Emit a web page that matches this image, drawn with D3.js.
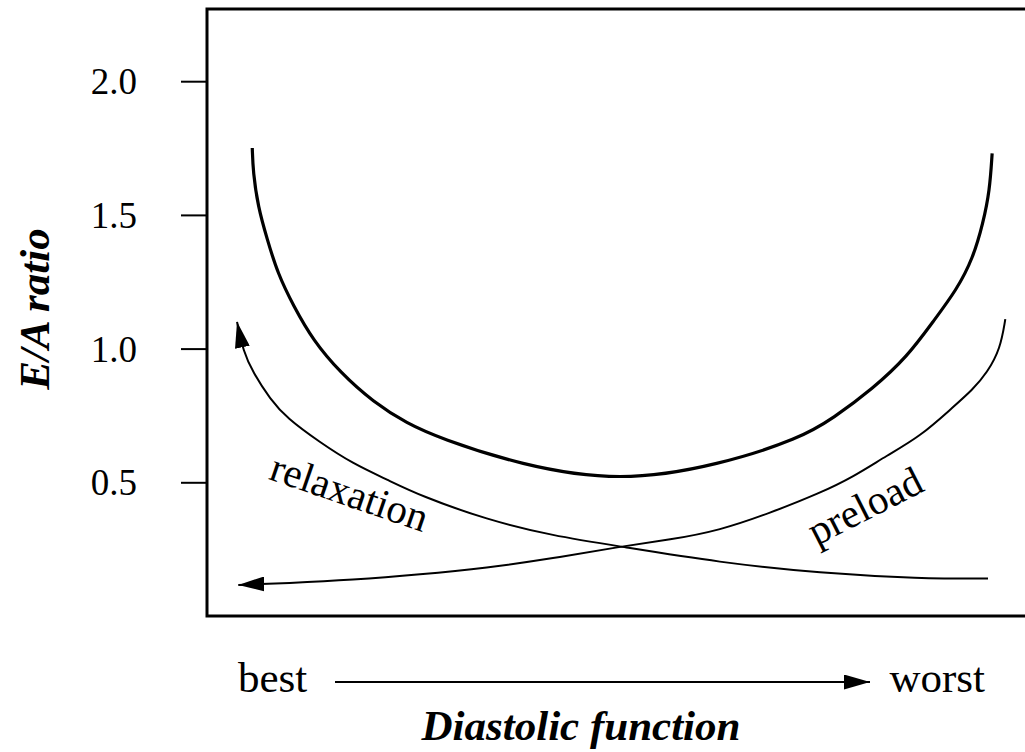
<!doctype html>
<html lang="en">
<head>
<meta charset="utf-8">
<style>
  body { margin: 0; background: #fff; }
  text { font-family: "Liberation Serif", "Times New Roman", serif; fill: #000; }
  .tick text { font-size: 37px; }
  .note { font-size: 41px; }
  .end-label { font-size: 43px; }
  .axis-title { font-size: 43px; font-weight: bold; font-style: italic; }
</style>
<script src="https://d3js.org/d3.v7.min.js"></script>
</head>
<body>
<svg width="1025" height="752"></svg>
<script>
// diastolic function index, 0 = best ... 100 = worst
const eaCurveX = [5.5, 5.6, 6.2, 7.3, 8.6, 10.5, 12.9, 16.2, 20.2, 24.3, 28.3, 38.0, 50.2,
                  62.3, 72.1, 76.1, 80.9, 85.1, 88.2, 91.1, 93.1, 94.3, 95.1, 95.4];
const eaCurveY = [1.75, 1.66, 1.53, 1.41, 1.28, 1.16, 1.03, 0.91, 0.80, 0.72, 0.665, 0.565, 0.50,
                  0.565, 0.665, 0.74, 0.85, 0.97, 1.10, 1.22, 1.34, 1.47, 1.59, 1.73];

// relaxation arrow, drawn from worst towards best
const relaxX = [94.9, 86.6, 74.5, 62.3, 50.2, 42.0, 34.0, 25.9, 21.9, 17.7, 13.7, 9.7, 7.7, 5.6, 4.4, 3.65];
const relaxY = [0.14, 0.14, 0.16, 0.20, 0.26, 0.30, 0.36, 0.45, 0.51, 0.57, 0.65, 0.74, 0.81, 0.91, 0.99, 1.10];

// preload arrow, drawn from worst towards best
const preloadX = [97.0, 96.4, 94.8, 93.0, 90.6, 86.6, 82.6, 78.5, 74.5, 68.4, 62.3, 56.3, 50.2, 42.0, 34.0, 25.9, 17.7, 9.7, 3.8];
const preloadY = [1.11, 1.00, 0.91, 0.845, 0.78, 0.67, 0.60, 0.52, 0.46, 0.385, 0.32, 0.285, 0.26, 0.215, 0.18, 0.155, 0.135, 0.123, 0.116];

const yTicks = [0.5, 1.0, 1.5, 2.0];

const svg = d3.select("svg");

const x = d3.scaleLinear().domain([0, 100]).range([207, 1030]);
const y = d3.scaleLinear().domain([0, 2.27]).range([616, 9]);

svg.append("defs").append("marker")
    .attr("id", "head")
    .attr("viewBox", "0 0 10 10")
    .attr("refX", 10)
    .attr("refY", 5)
    .attr("markerUnits", "userSpaceOnUse")
    .attr("markerWidth", 26)
    .attr("markerHeight", 15)
    .attr("preserveAspectRatio", "none")
    .attr("orient", "auto")
    .append("path")
    .attr("d", "M0,0 L10,5 L0,10 Z")
    .attr("fill", "#000");

// frame
svg.append("rect")
    .attr("x", x(0))
    .attr("y", y(2.27))
    .attr("width", x(100) - x(0))
    .attr("height", y(0) - y(2.27))
    .attr("fill", "none")
    .attr("stroke", "#000")
    .attr("stroke-width", 3);

// y axis
const yAxis = svg.append("g")
    .attr("transform", `translate(${x(0)},0)`)
    .call(d3.axisLeft(y)
        .tickValues(yTicks)
        .tickFormat(d3.format(".1f"))
        .tickSize(26)
        .tickPadding(44));
yAxis.select(".domain").remove();
yAxis.selectAll(".tick line").attr("stroke", "#000").attr("stroke-width", 2);
yAxis.selectAll(".tick text").attr("font-family", null).attr("font-size", null).attr("dy", "0.34em");

const line = d3.line()
    .x(d => x(d[0]))
    .y(d => y(d[1]))
    .curve(d3.curveBasis);

svg.append("path")
    .attr("d", line(d3.zip(eaCurveX, eaCurveY)))
    .attr("fill", "none")
    .attr("stroke", "#000")
    .attr("stroke-width", 3.2);

svg.append("path")
    .attr("d", line(d3.zip(relaxX, relaxY)))
    .attr("fill", "none")
    .attr("stroke", "#000")
    .attr("stroke-width", 2)
    .attr("marker-end", "url(#head)");

svg.append("path")
    .attr("d", line(d3.zip(preloadX, preloadY)))
    .attr("fill", "none")
    .attr("stroke", "#000")
    .attr("stroke-width", 2)
    .attr("marker-end", "url(#head)");

// curve labels
svg.append("text")
    .attr("class", "note")
    .attr("text-anchor", "middle")
    .attr("dy", "0.32em")
    .attr("transform", `translate(${x(17.3)},${y(0.46)}) rotate(19)`)
    .text("relaxation");

svg.append("text")
    .attr("class", "note")
    .attr("text-anchor", "middle")
    .attr("dy", "0.32em")
    .attr("transform", `translate(${x(80.0)},${y(0.41)}) rotate(-27)`)
    .text("preload");

// x axis: best -> worst
svg.append("text")
    .attr("class", "end-label")
    .attr("x", 238)
    .attr("y", 692)
    .text("best");

svg.append("text")
    .attr("class", "end-label")
    .attr("x", 985)
    .attr("y", 692)
    .attr("text-anchor", "end")
    .text("worst");

svg.append("line")
    .attr("x1", 335)
    .attr("x2", 870)
    .attr("y1", 682)
    .attr("y2", 682)
    .attr("stroke", "#000")
    .attr("stroke-width", 2)
    .attr("marker-end", "url(#head)");

svg.append("text")
    .attr("class", "axis-title")
    .attr("x", 581)
    .attr("y", 740)
    .attr("text-anchor", "middle")
    .text("Diastolic function");

svg.append("text")
    .attr("class", "axis-title")
    .attr("transform", "translate(49,309) rotate(-90)")
    .attr("text-anchor", "middle")
    .text("E/A ratio");
</script>
</body>
</html>
